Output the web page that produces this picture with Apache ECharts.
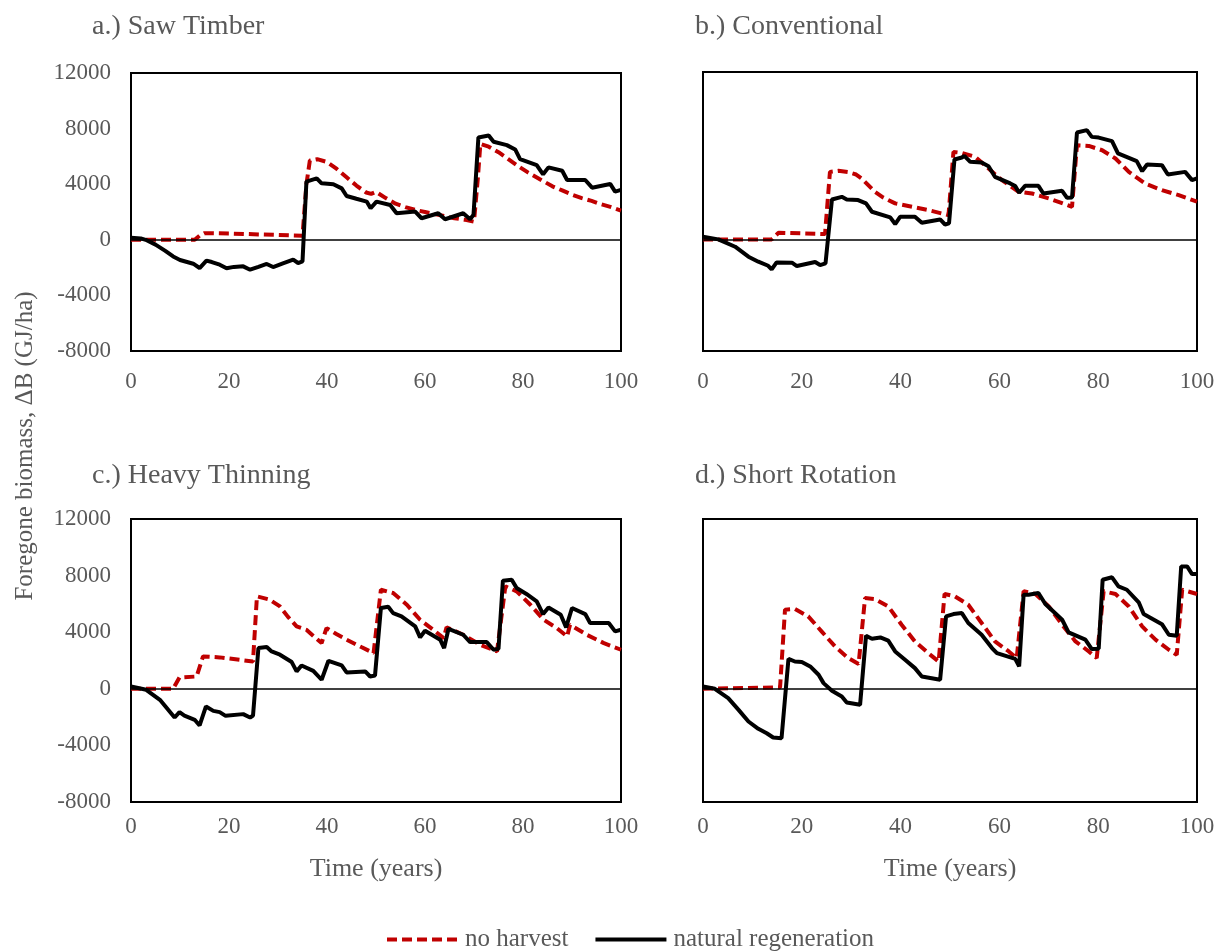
<!DOCTYPE html>
<html>
<head>
<meta charset="utf-8">
<script src="https://cdn.jsdelivr.net/npm/echarts@6/dist/echarts.min.js"></script>
<style>html,body{margin:0;padding:0;background:#fff;}#c{width:1223px;height:952px;}</style>
</head>
<body>
<div id="c"></div>
<script>
// ---- data: [year, ΔB (GJ/ha)] ----
const panelTitles = ['a.) Saw Timber', 'b.) Conventional', 'c.) Heavy Thinning', 'd.) Short Rotation'];
const seriesNames = ['no harvest', 'natural regeneration'];
const yTicks = [-8000, 12000, 4000];
const xTicks = [0, 100, 20];

const sawNoHarvest = [[0,0],[13,0],[14,300],[15,480],[20,450],[25,400],[30,350],[35,300],[35.8,4000],[36.5,5700],[38,5800],[40,5600],[42,5100],[44,4500],[46,3900],[48,3400],[49,3300],[50,3450],[52,3000],[54,2600],[56,2350],[58,2150],[60,2000],[62,1850],[64,1700],[66,1550],[68,1450],[70,1300],[70.8,4500],[71.3,6900],[73,6700],[75,6300],[77,5800],[79,5300],[81,4850],[83,4450],[84.5,4150],[86,3850],[88,3550],[90,3250],[92,3000],[94,2800],[96,2550],[98,2350],[100,2100]];
const sawNatRegen = [[0,150],[2,100],[3,0],[5,-350],[7,-800],[8.6,-1200],[10,-1450],[12.7,-1720],[14,-2030],[15.4,-1500],[16.5,-1600],[18.1,-1790],[19.5,-2050],[21,-1950],[22.9,-1910],[24.3,-2150],[26,-1950],[27.7,-1740],[29,-1960],[31,-1700],[33.1,-1430],[34.1,-1670],[35,-1550],[35.8,4180],[37.9,4420],[38.9,4060],[41.3,4000],[43,3700],[44,3150],[46,2950],[48.1,2750],[48.9,2270],[50.1,2750],[52.9,2500],[54.2,1910],[58,2030],[59.3,1550],[62.7,1910],[64.1,1480],[67.8,1910],[69.2,1480],[69.9,1800],[70.9,7360],[73,7500],[74,7050],[76.7,6810],[78.4,6500],[79.4,5810],[82.8,5380],[84.1,4710],[85.2,5210],[88,4970],[89,4300],[92.7,4300],[94.1,3750],[97.8,4020],[98.8,3470],[100,3590]];

const convNoHarvest = [[0,0],[13.9,0],[15.3,480],[20,430],[24.7,380],[25.7,4840],[27.4,4915],[29.4,4820],[31,4650],[32.1,4370],[34.8,3410],[36.5,3000],[38.9,2580],[42.3,2340],[45.6,2100],[49.7,1740],[50.7,6275],[52.4,6200],[55.1,5920],[57.8,5080],[60.5,4250],[63.9,3410],[66.6,3290],[70,2935],[74.7,2340],[75.7,6750],[78.1,6700],[80.8,6390],[83.5,5800],[86.2,4840],[89.5,4010],[92.9,3530],[96.3,3170],[100,2700]];
const convNatRegen = [[0,190],[3.1,0],[6.5,-525],[9.2,-1240],[11.2,-1600],[13.2,-1890],[13.9,-2150],[14.9,-1650],[18,-1670],[19,-1910],[22.7,-1620],[23.7,-1840],[24.8,-1720],[26.1,2860],[28.1,3050],[29.1,2860],[31.4,2820],[33,2580],[34.2,1980],[37.9,1575],[38.9,1100],[39.9,1620],[42.9,1620],[44.3,1190],[48,1430],[49,1070],[49.8,1145],[50.9,5730],[52.4,5870],[52.9,5990],[54.1,5560],[56.4,5510],[57.8,5250],[59.1,4485],[62.2,4010],[63.2,3820],[64,3340],[65.2,3840],[67.9,3840],[68.9,3290],[72.7,3480],[73.7,2980],[74.7,3000],[75.7,7660],[77.7,7830],[78.7,7350],[80.1,7300],[82.8,7040],[84,6160],[87.8,5610],[88.9,4890],[89.9,5370],[92.9,5320],[94.1,4650],[97.6,4840],[99,4250],[100,4370]];

const heavyNoHarvest = [[0,0],[8.6,0],[9.9,800],[13.4,870],[14.7,2290],[18.1,2220],[24.9,1930],[25.7,6530],[28.3,6300],[30.4,5820],[32,5100],[33.8,4410],[35.8,4170],[37.5,3650],[38.9,3230],[39.9,4290],[42,3850],[44,3470],[47,2950],[49.5,2520],[51,7000],[53.5,6770],[56.3,5940],[59,4880],[61.7,4170],[63.8,3580],[64.4,4340],[67.8,3820],[71.3,3110],[74.7,2640],[76.4,7240],[78.7,6890],[81.5,5940],[84.2,4880],[86.9,4290],[89,3700],[89.6,4530],[93,3820],[96.5,3230],[100,2760]];
const heavyNatRegen = [[0,165],[3.1,-70],[5.9,-780],[8.9,-2030],[9.9,-1650],[10.9,-1890],[13,-2190],[14,-2590],[15.3,-1250],[16.8,-1560],[18.1,-1650],[19.3,-1910],[22.9,-1790],[24.3,-2030],[24.9,-1890],[26,2880],[27.7,2950],[28.7,2640],[30.4,2410],[32.8,1890],[33.8,1230],[34.8,1650],[37.2,1270],[38.9,640],[40.3,1980],[43,1650],[44,1160],[47.8,1230],[48.8,870],[49.8,940],[51,5710],[52.5,5800],[53.5,5350],[55.2,5120],[58,4410],[59,3630],[60,4100],[63.1,3470],[63.9,2880],[64.8,4240],[67.8,3820],[69.2,3300],[72.6,3300],[74,2760],[75,2830],[75.9,7640],[77.7,7710],[78.7,7120],[80.7,6700],[82.8,6180],[84.1,5280],[85.2,5750],[87.7,5230],[88.8,4340],[90,5710],[92.7,5280],[93.7,4650],[97.5,4650],[98.8,4060],[100,4170]];

const shortNoHarvest = [[0,0],[15.6,100],[16.6,5590],[18.6,5640],[21.3,5120],[24,4060],[26.7,3000],[29.4,2170],[31.5,1750],[32.8,6410],[34.8,6340],[37.5,5820],[40.2,4530],[42.9,3350],[45.6,2520],[47.7,1930],[48.9,6700],[51,6530],[53.7,5940],[56.4,4650],[59.1,3350],[61.9,2640],[63.5,2170],[64.9,6890],[67.3,6700],[70,5820],[72.7,4530],[75.4,3350],[78.1,2640],[79.7,2170],[81.1,6890],[83.5,6700],[86.2,5820],[88.9,4410],[91.6,3470],[94.3,2760],[95.9,2400],[97,7000],[100,6700]];
const shortNatRegen = [[0,165],[2.4,0],[5.1,-660],[7.2,-1490],[9.2,-2310],[11.2,-2830],[12.9,-3140],[14.2,-3440],[15.9,-3490],[17.3,2120],[18.6,1930],[20,1890],[21.7,1580],[23.4,990],[24.4,400],[26.1,-140],[28.1,-540],[29.1,-970],[31.8,-1130],[33,3750],[34.2,3540],[35.9,3630],[37.5,3400],[38.9,2640],[40.9,2050],[42.9,1460],[44.3,870],[48,640],[49.2,5120],[50.7,5280],[52.4,5350],[53.7,4650],[56.4,3820],[58.5,2880],[59.5,2520],[63.2,2120],[64,1580],[64.9,6650],[65.9,6650],[67.9,6770],[69.3,5990],[72.7,4880],[74,3990],[77.4,3470],[78.7,2810],[80.1,2830],[80.9,7710],[82.8,7880],[84.1,7240],[85.8,7000],[88.2,6110],[89.2,5280],[92.9,4570],[94.3,3820],[95.9,3750],[96.8,8650],[98,8650],[99,8110],[100,8110]];

const panelData = [
  [sawNoHarvest, sawNatRegen],
  [convNoHarvest, convNatRegen],
  [heavyNoHarvest, heavyNatRegen],
  [shortNoHarvest, shortNatRegen]
];

// ---- layout ----
const FONT = "'Liberation Serif','Times New Roman',serif";
const TXT = '#595959';
const grids = [
  {left: 131, top: 73, width: 490, height: 278},
  {left: 703, top: 72, width: 494, height: 279},
  {left: 131, top: 519, width: 490, height: 283},
  {left: 703, top: 519, width: 494, height: 283}
];
const titlePos = [[87, 8], [690, 8], [87, 457], [690, 457]];

const option = {
  backgroundColor: '#fff',
  animation: false,
  title: panelTitles.map((t, i) => ({
    text: t, left: titlePos[i][0], top: titlePos[i][1],
    textStyle: {fontFamily: FONT, fontSize: 28, fontWeight: 'normal', color: TXT}
  })),
  grid: grids.map(g => Object.assign({show: true, borderColor: '#000', borderWidth: 2, backgroundColor: 'transparent'}, g)),
  xAxis: grids.map((g, i) => ({
    type: 'value', gridIndex: i, min: xTicks[0], max: xTicks[1], interval: xTicks[2],
    axisLine: {show: false}, axisTick: {show: false}, splitLine: {show: false},
    axisLabel: {fontFamily: FONT, fontSize: 23, color: TXT, margin: i < 2 ? 19 : 13, formatter: v => String(v)},
    name: i >= 2 ? 'Time (years)' : '', nameLocation: 'middle', nameGap: 54,
    nameTextStyle: {fontFamily: FONT, fontSize: 26, color: TXT}
  })),
  yAxis: grids.map((g, i) => ({
    type: 'value', gridIndex: i, min: yTicks[0], max: yTicks[1], interval: yTicks[2],
    axisLine: {show: false}, axisTick: {show: false}, splitLine: {show: false},
    axisLabel: {show: i % 2 === 0, fontFamily: FONT, fontSize: 23, color: TXT, margin: 20, formatter: v => String(v)}
  })),
  legend: {
    top: 922, left: 380, itemWidth: 71, itemHeight: 12, itemGap: 25,
    data: seriesNames,
    itemStyle: {opacity: 0},
    lineStyle: {width: 4},
    textStyle: {fontFamily: FONT, fontSize: 25, color: TXT, padding: [0, 0, 0, 2]}
  },
  graphic: [{
    type: 'text', x: 25, y: 446, rotation: Math.PI / 2,
    style: {text: 'Foregone biomass, ΔB (GJ/ha)', font: "25px 'Liberation Serif','Times New Roman',serif", fill: TXT, align: 'center', verticalAlign: 'middle'}
  }],
  series: []
};

panelData.forEach((pair, i) => {
  option.series.push({
    name: seriesNames[0], type: 'line', xAxisIndex: i, yAxisIndex: i,
    data: pair[0], showSymbol: false, symbol: 'none',
    lineStyle: {color: '#C00000', width: 4, type: [10, 5]},
    itemStyle: {color: '#C00000'}
  });
  option.series.push({
    name: seriesNames[1], type: 'line', xAxisIndex: i, yAxisIndex: i,
    data: pair[1], showSymbol: false, symbol: 'none', z: 3,
    lineStyle: {color: '#000', width: 4},
    itemStyle: {color: '#000'},
    markLine: {silent: true, symbol: 'none', label: {show: false},
      lineStyle: {color: '#000', width: 1.5, type: 'solid'}, data: [{yAxis: 0}]}
  });
});

const chart = echarts.init(document.getElementById('c'), null, {renderer: 'canvas'});
chart.setOption(option);
</script>
</body>
</html>
